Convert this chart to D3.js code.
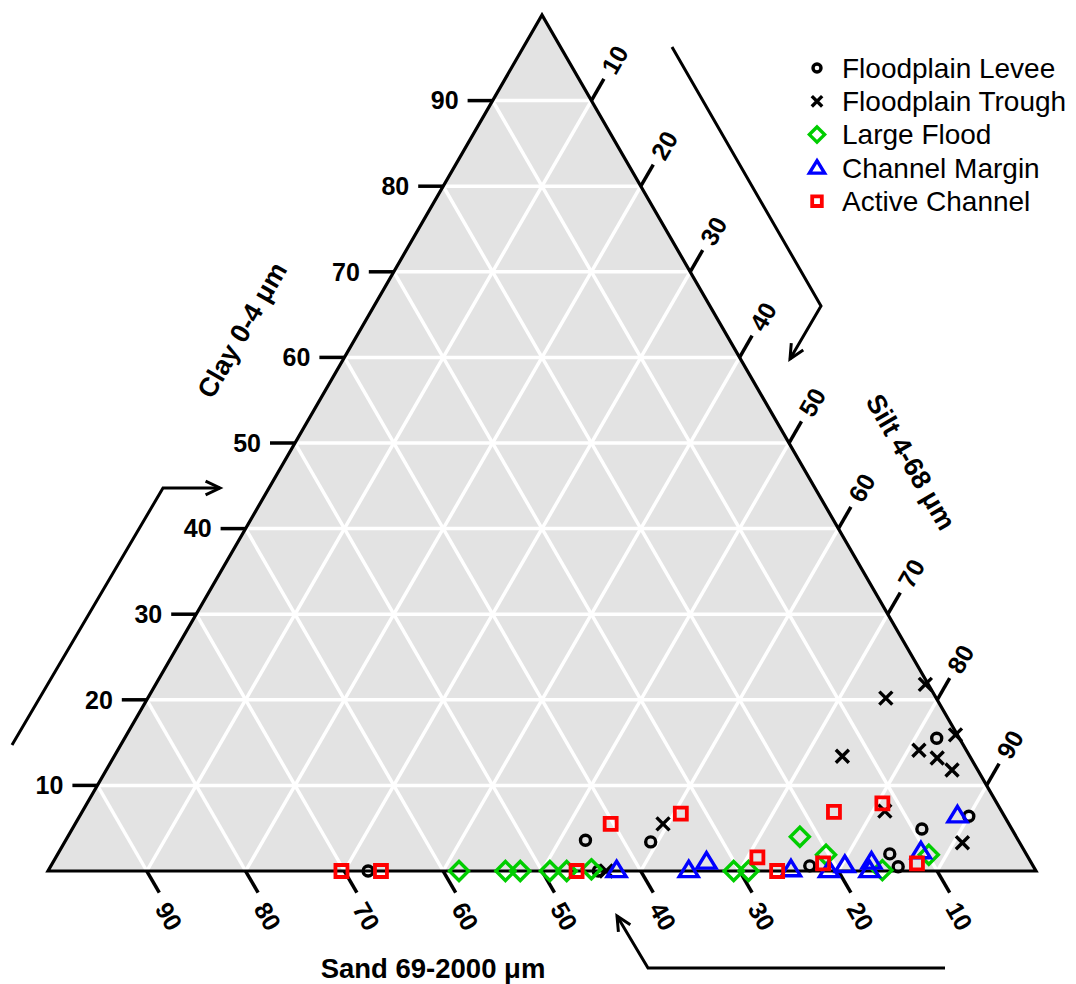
<!DOCTYPE html>
<html>
<head>
<meta charset="utf-8">
<script src="https://cdn.jsdelivr.net/npm/d3@7"></script>
<style>
  body { margin: 0; background: #fff; }
  svg text { font-family: Arial, "Liberation Sans", sans-serif; }
</style>
</head>
<body>
<div id="chart-area"></div>
<script>
// [sand, silt, clay] in percent
const levee = [
  [67.6, 32.4, 0.0], [44.3, 55.7, 0.0], [22.6, 76.8, 0.6], [13.8, 84.2, 2.0],
  [13.7, 85.8, 0.5], [43.8, 52.6, 3.6], [37.3, 59.3, 3.4], [9.1, 86.0, 4.9],
  [2.3, 82.2, 15.5], [3.6, 90.0, 6.4]
];
const trough = [
  [43.5, 56.5, 0.0], [35.0, 59.5, 5.5], [12.9, 73.7, 13.4], [5.1, 74.7, 20.2],
  [0.3, 77.9, 21.8], [0.2, 83.9, 15.9], [4.8, 81.1, 14.1], [3.4, 83.4, 13.2],
  [2.6, 85.6, 11.8], [11.8, 81.2, 7.0], [5.8, 90.9, 3.3]
];
const largeFlood = [
  [58.4, 41.6, 0.0], [53.7, 46.3, 0.0], [52.2, 47.8, 0.0], [49.2, 50.8, 0.0],
  [47.5, 52.5, 0.0], [44.9, 54.9, 0.2], [30.6, 69.4, 0.0], [29.1, 70.9, 0.0],
  [21.9, 74.1, 4.0], [20.3, 77.8, 1.9], [15.5, 84.4, 0.1], [9.9, 88.2, 1.9]
];
const channelMargin = [
  [42.4, 57.5, 0.1], [35.1, 64.8, 0.1], [32.8, 66.1, 1.1], [24.7, 75.1, 0.2],
  [20.9, 79.0, 0.1], [19.0, 80.3, 0.7], [16.8, 83.1, 0.1], [16.1, 82.8, 1.1],
  [10.5, 87.2, 2.3], [4.7, 88.8, 6.5]
];
const activeChannel = [
  [70.3, 29.7, 0.0], [66.3, 33.7, 0.0], [46.5, 53.5, 0.0], [40.3, 54.2, 5.5],
  [32.6, 60.7, 6.7], [27.4, 71.0, 1.6], [26.2, 73.8, 0.0], [21.1, 78.0, 0.9],
  [17.0, 76.1, 6.9], [11.6, 80.5, 7.9], [11.6, 87.5, 0.9]
];

const groupNames = ['Floodplain Levee', 'Floodplain Trough', 'Large Flood', 'Channel Margin', 'Active Channel'];
const groupColors = ['#000000', '#000000', '#00cd00', '#0000ff', '#ff0000'];
const tickValues = [10, 20, 30, 40, 50, 60, 70, 80, 90];

const width = 1076;
const height = 984;

const svg = d3.select('#chart-area').append('svg')
  .attr('width', width)
  .attr('height', height);

// horizontal position: silt + clay / 2 ; vertical: clay
const scaleX = d3.scaleLinear().domain([0, 100]).range([48, 1036]);
const scaleY = d3.scaleLinear().domain([0, 100]).range([871, 15]);

const px = d => scaleX(d[1] + d[2] / 2);
const py = d => scaleY(d[2]);

// triangle fill
const corners = [[100, 0, 0], [0, 100, 0], [0, 0, 100]];
svg.append('polygon')
  .attr('points', corners.map(d => `${px(d)},${py(d)}`).join(' '))
  .attr('fill', '#e3e3e3');

// grid
const grid = svg.append('g').attr('stroke', '#fff').attr('stroke-width', 3.5);
tickValues.forEach(v => {
  const lines = [
    [[100 - v, 0, v], [0, 100 - v, v]],
    [[100 - v, v, 0], [0, v, 100 - v]],
    [[v, 100 - v, 0], [v, 0, 100 - v]]
  ];
  lines.forEach(([a, b]) => {
    grid.append('line')
      .attr('x1', px(a)).attr('y1', py(a))
      .attr('x2', px(b)).attr('y2', py(b));
  });
});

svg.append('polygon')
  .attr('points', corners.map(d => `${px(d)},${py(d)}`).join(' '))
  .attr('fill', 'none')
  .attr('stroke', '#000')
  .attr('stroke-width', 3.2)
  .attr('stroke-linejoin', 'miter');

// ticks and labels
const tickLen = 25;
const c60 = 0.5, s60 = Math.sqrt(3) / 2;
const axes = svg.append('g');
const tickFont = '25px';

tickValues.forEach(v => {
  // clay (left edge)
  let p = [100 - v, 0, v];
  axes.append('line')
    .attr('x1', px(p)).attr('y1', py(p))
    .attr('x2', px(p) - tickLen).attr('y2', py(p))
    .attr('stroke', '#000').attr('stroke-width', 3.5);
  axes.append('text')
    .text(v)
    .attr('x', px(p) - 34).attr('y', py(p))
    .attr('dy', '0.35em')
    .attr('text-anchor', 'end')
    .attr('font-size', tickFont).attr('font-weight', 'bold');

  // sand (bottom edge)
  p = [v, 100 - v, 0];
  axes.append('line')
    .attr('x1', px(p)).attr('y1', py(p))
    .attr('x2', px(p) + tickLen * c60).attr('y2', py(p) + tickLen * s60)
    .attr('stroke', '#000').attr('stroke-width', 3.5);
  let lx = px(p) + 50 * c60 - 3, ly = py(p) + 50 * s60 + 2;
  axes.append('text')
    .text(v)
    .attr('transform', `translate(${lx},${ly}) rotate(60)`)
    .attr('dy', '0.35em')
    .attr('text-anchor', 'middle')
    .attr('font-size', tickFont).attr('font-weight', 'bold');

  // silt (right edge)
  p = [0, v, 100 - v];
  axes.append('line')
    .attr('x1', px(p)).attr('y1', py(p))
    .attr('x2', px(p) + tickLen * c60).attr('y2', py(p) - tickLen * s60)
    .attr('stroke', '#000').attr('stroke-width', 3.5);
  lx = px(p) + 47 * c60; ly = py(p) - 47 * s60;
  axes.append('text')
    .text(v)
    .attr('transform', `translate(${lx},${ly}) rotate(-60)`)
    .attr('dy', '0.35em')
    .attr('text-anchor', 'middle')
    .attr('font-size', tickFont).attr('font-weight', 'bold');
});

// axis titles
svg.append('text')
  .text('Clay 0-4 \u03bcm')
  .attr('transform', 'translate(242,330) rotate(-60)')
  .attr('dy', '0.35em')
  .attr('text-anchor', 'middle')
  .attr('font-size', '27px').attr('font-weight', 'bold');
svg.append('text')
  .text('Silt 4-68 \u03bcm')
  .attr('transform', 'translate(911,462) rotate(60)')
  .attr('dy', '0.35em')
  .attr('text-anchor', 'middle')
  .attr('font-size', '27px').attr('font-weight', 'bold');
svg.append('text')
  .text('Sand 69-2000 \u03bcm')
  .attr('x', 433).attr('y', 968)
  .attr('dy', '0.35em')
  .attr('text-anchor', 'middle')
  .attr('font-size', '27.5px').attr('font-weight', 'bold');

// direction arrows
const arrows = [
  [[12, 745], [163, 488], [220, 488]],
  [[672, 47], [821, 306], [790, 359]],
  [[945, 968], [648, 968], [617, 916]]
];
const arrowG = svg.append('g')
  .attr('stroke', '#000').attr('stroke-width', 3).attr('fill', 'none');
arrows.forEach(pts => {
  arrowG.append('path').attr('d', d3.line()(pts));
  const [a, b] = pts.slice(-2);
  const ang = Math.atan2(b[1] - a[1], b[0] - a[0]);
  const hl = 16, ha = Math.PI / 7;
  const head = [
    [b[0] - hl * Math.cos(ang - ha), b[1] - hl * Math.sin(ang - ha)],
    b,
    [b[0] - hl * Math.cos(ang + ha), b[1] - hl * Math.sin(ang + ha)]
  ];
  arrowG.append('path').attr('d', d3.line()(head));
});

// marker shapes
const markerPath = (i, k) => {
  const s = k || 1;
  if (i === 1) return `M${-6.5 * s},${-6.5 * s}L${6.5 * s},${6.5 * s}M${-6.5 * s},${6.5 * s}L${6.5 * s},${-6.5 * s}`;
  if (i === 2) return `M0,${-9.5 * s}L${9.5 * s},0L0,${9.5 * s}L${-9.5 * s},0Z`;
  if (i === 3) return `M0,${-9 * s}L${9.5 * s},${6.5 * s}L${-9.5 * s},${6.5 * s}Z`;
  return `M${-6 * s},${-6 * s}H${6 * s}V${6 * s}H${-6 * s}Z`;
};

const drawMarker = (sel, i, x, y, k) => {
  const color = groupColors[i];
  const sw = i === 4 ? 3.8 : 3.4;
  if (i === 0) {
    sel.append('circle')
      .attr('cx', x).attr('cy', y).attr('r', 5 * (k || 1))
      .attr('fill', 'none').attr('stroke', color).attr('stroke-width', sw);
  } else {
    sel.append('path')
      .attr('d', markerPath(i, k))
      .attr('transform', `translate(${x},${y})`)
      .attr('fill', 'none').attr('stroke', color).attr('stroke-width', sw)
      .attr('stroke-linejoin', 'miter');
  }
};

const groups = [levee, trough, largeFlood, channelMargin, activeChannel];
const pointsG = svg.append('g');
groups.forEach((data, i) => {
  data.forEach(d => drawMarker(pointsG, i, px(d), py(d)));
});

// legend
const legend = svg.append('g');
groupNames.forEach((name, i) => {
  const y = 68 + i * 33.3;
  drawMarker(legend, i, 817, y, 0.8);
  legend.append('text')
    .text(name)
    .attr('x', 842).attr('y', y)
    .attr('dy', '0.35em')
    .attr('font-size', '28px');
});
</script>
</body>
</html>
